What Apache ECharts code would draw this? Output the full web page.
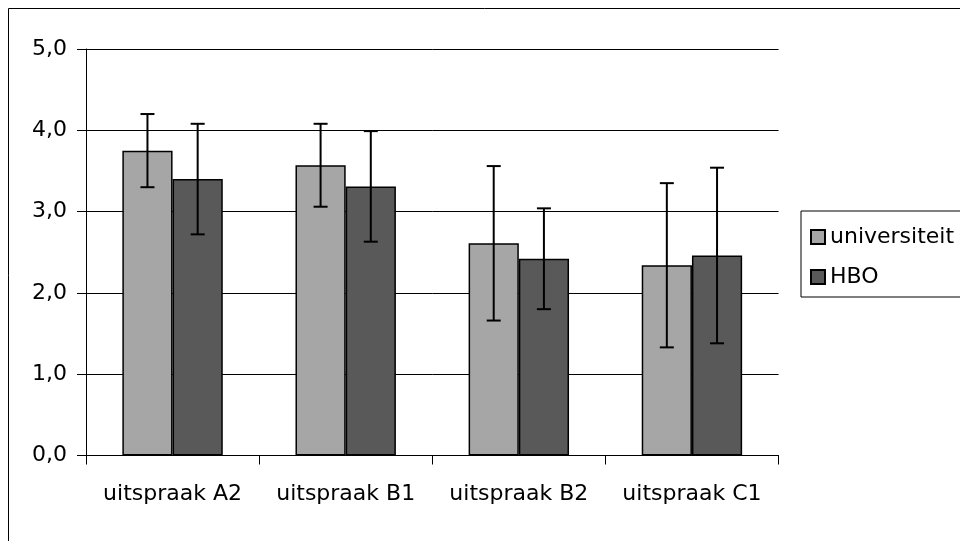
<!DOCTYPE html>
<html><head><meta charset="utf-8">
<script src="https://cdn.jsdelivr.net/npm/echarts@6/dist/echarts.min.js"></script>
<style>html,body{margin:0;padding:0;background:#fff}#c{width:960px;height:541px}</style>
</head><body><div id="c"></div>
<script>
const categories = ['uitspraak A2', 'uitspraak B1', 'uitspraak B2', 'uitspraak C1'];
const seriesNames = ['universiteit', 'HBO'];
const univMean = [3.75, 3.57, 2.61, 2.34];
const univErr  = [0.45, 0.51, 0.95, 1.01];
const hboMean  = [3.40, 3.31, 2.42, 2.46];
const hboErr   = [0.68, 0.68, 0.62, 1.08];
const yTicks = [0, 1, 2, 3, 4, 5];

const GAP = 0.42;
const font = 'DejaVu Sans, Liberation Sans, Arial, sans-serif';
const FS = 22;

function errSeries(name, mean, err, sign) {
  return {
    type: 'custom',
    name: name + ' err',
    z: 5,
    encode: { x: 0, y: 1 },
    data: mean.map((m, i) => [i, m, err[i]]),
    renderItem: function (params, api) {
      const x = api.value(0), v = api.value(1), e = api.value(2);
      const band = api.size([1, 0])[0];
      const bw = band * (1 - GAP) / 2;
      const cx = api.coord([x, v])[0] + sign * bw / 2;
      const hi = api.coord([x, v + e])[1];
      const lo = api.coord([x, v - e])[1];
      const cap = 7;
      const st = { stroke: '#000', lineWidth: 2 };
      return {
        type: 'group',
        children: [
          { type: 'line', shape: { x1: cx, y1: hi, x2: cx, y2: lo }, style: st },
          { type: 'line', shape: { x1: cx - cap, y1: hi, x2: cx + cap, y2: hi }, style: st },
          { type: 'line', shape: { x1: cx - cap, y1: lo, x2: cx + cap, y2: lo }, style: st }
        ]
      };
    }
  };
}

const chart = echarts.init(document.getElementById('c'), null, { renderer: 'canvas' });
chart.setOption({
  animation: false,
  backgroundColor: '#fff',
  textStyle: { fontFamily: font, color: '#000' },
  graphic: [{
    type: 'rect', left: 6, top: 6, z: -1,
    shape: { x: 0, y: 0, width: 980, height: 534 },
    style: { fill: 'none', stroke: '#000', lineWidth: 1 }
  }],
  grid: { left: 86, right: 181.5, top: 49, bottom: 85.5, containLabel: false },
  legend: {
    data: seriesNames,
    orient: 'vertical',
    left: 801, top: 211,
    itemWidth: 14, itemHeight: 14,
    itemGap: 18,
    icon: 'rect',
    padding: [15, 60, 9, 9],
    borderColor: '#000', borderWidth: 1,
    textStyle: { fontSize: FS, fontFamily: font, color: '#000' }
  },
  xAxis: {
    type: 'category',
    data: categories,
    axisLine: { lineStyle: { color: '#000', width: 1 } },
    axisTick: { show: true, interval: 0, length: 9, lineStyle: { color: '#000' } },
    axisLabel: { interval: 0, hideOverlap: false, fontSize: FS, color: '#000', fontFamily: font, margin: 28 }
  },
  yAxis: {
    type: 'value',
    min: yTicks[0], max: yTicks[yTicks.length - 1], interval: 1,
    axisLine: { show: true, lineStyle: { color: '#000', width: 1 } },
    axisTick: { show: true, length: 9, lineStyle: { color: '#000' } },
    splitLine: { show: true, lineStyle: { color: '#000', width: 1 } },
    axisLabel: { fontSize: FS, color: '#000', fontFamily: font, margin: 19,
      formatter: v => v.toFixed(1).replace('.', ',') }
  },
  series: [
    { type: 'bar', name: seriesNames[0], data: univMean, barGap: '0%', barCategoryGap: (GAP * 100) + '%',
      itemStyle: { color: '#A6A6A6', borderColor: '#000', borderWidth: 1.5 } },
    { type: 'bar', name: seriesNames[1], data: hboMean, barGap: '0%', barCategoryGap: (GAP * 100) + '%',
      itemStyle: { color: '#595959', borderColor: '#000', borderWidth: 1.5 } },
    errSeries(seriesNames[0], univMean, univErr, -1),
    errSeries(seriesNames[1], hboMean, hboErr, 1)
  ]
});
</script></body></html>
